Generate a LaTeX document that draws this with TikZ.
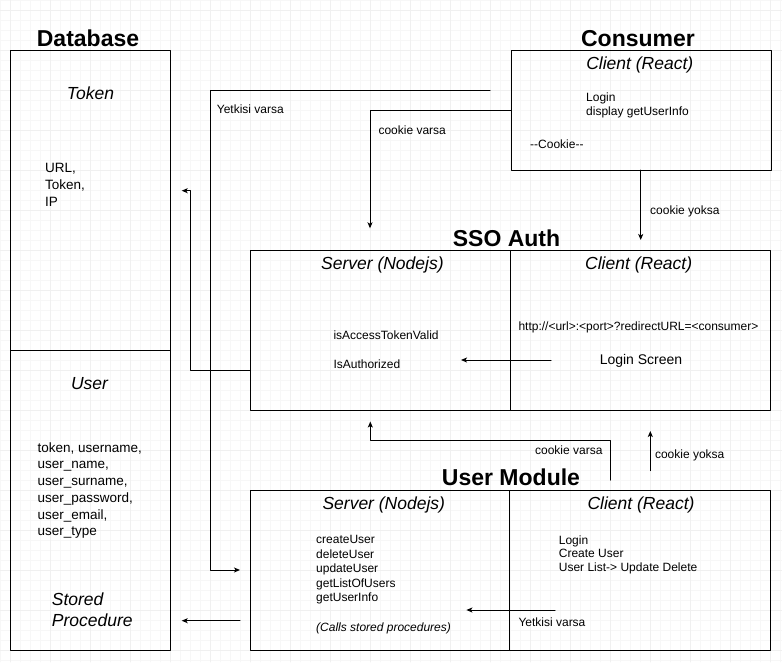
\documentclass[tikz,border=0pt]{standalone}
\usepackage{fontspec}
\setmainfont{Liberation Sans}
\usetikzlibrary{arrows.meta}

\begin{document}
\begin{tikzpicture}[line cap=round,line join=round,x=1pt,y=-1pt,
		box/.style={draw,line width=1pt,anchor=north west,inner sep=0pt,outer sep=0pt},
		title/.style={font=\fontsize{23}{27}\selectfont\bfseries,anchor=base,inner sep=0pt},
		head/.style={font=\fontsize{17.5}{21}\selectfont\itshape,anchor=base,inner sep=0pt},
		txt/.style={font=\fontsize{12}{14.5}\selectfont,anchor=base west,inner sep=0pt,align=left},
		dbtxt/.style={font=\fontsize{13.5}{16.7}\selectfont,anchor=base west,inner sep=0pt,align=left},
		link/.style={line width=1pt,-{Stealth[length=6pt,width=5pt,inset=1.5pt]}}]
		\useasboundingbox (0,0) rectangle (782,662);
		\fill[white] (0,0) rectangle (782,662);
		% background grid
		\foreach \g in {0,10,...,780} \draw[black!3,line width=0.6pt] (\g,0) -- (\g,662);
		\foreach \g in {0,10,...,660} \draw[black!3,line width=0.6pt] (0,\g) -- (782,\g);
		\foreach \g in {10,50,...,770} \draw[black!6,line width=0.6pt] (\g,0) -- (\g,662);
		\foreach \g in {10,50,...,650} \draw[black!6,line width=0.6pt] (0,\g) -- (782,\g);
		% boxes
		\node[box,minimum width=160pt,minimum height=300pt] (token) at (10.7,50.7) {};
		\node[box,minimum width=160pt,minimum height=299.3pt] (user) at (10.7,350.7) {};
		\node[box,minimum width=260pt,minimum height=119.3pt] (consumer) at (511,50.7) {};
		\node[box,minimum width=259.9pt,minimum height=159.3pt] (ssoserver) at (250.4,250.7) {};
		\node[box,minimum width=260.3pt,minimum height=159.3pt] (ssoclient) at (510.3,250.7) {};
		\node[box,minimum width=259.2pt,minimum height=159.3pt] (umserver) at (250.4,490.7) {};
		\node[box,minimum width=261pt,minimum height=159.3pt] (umclient) at (509.6,490.7) {};
		% titles
		\node[title] (dbtitle) at (88,46) {Database};
		\node[title] (consumertitle) at (638,46) {Consumer};
		\node[title] (ssotitle) at (506.5,246) {SSO Auth};
		\node[title] (umtitle) at (511,485) {User Module};
		% database (multi-line nodes sit on their last line)
		\node[head] (tokenhead) at (90.5,99) {Token};
		\node[dbtxt] (tokenfields) at (45,206) {URL,\\Token,\\IP};
		\node[head] (userhead) at (89.5,389) {User};
		\node[dbtxt] (userfields) at (37.3,535.7) {token, username,\\user\_name,\\user\_surname,\\user\_password,\\user\_email,\\user\_type};
		\node[head,anchor=base west,align=left] (stored) at (51.7,626.7) {Stored\\Procedure};
		% consumer
		\node[head] (consumerhead) at (639.8,69.3) {Client (React)};
		\node[txt,font=\fontsize{12}{13.3}\selectfont] (consumerlist) at (586,115) {Login\\display getUserInfo};
		\node[txt] (cookie) at (530,148.3) {{-}{-}Cookie{-}{-}};
		% sso auth
		\node[head] (ssoserverhead) at (382.4,269.3) {Server (Nodejs)};
		\node[head] (ssoclienthead) at (638.7,269.3) {Client (React)};
		\node[txt] (tokenvalid) at (333.3,339.3) {isAccessTokenValid};
		\node[txt] (authorized) at (333.3,368.3) {IsAuthorized};
		\node[txt] (redirect) at (518.3,330.7) {http://<url>:<port>?redirectURL=<consumer>};
		\node[font=\fontsize{14}{17}\selectfont,anchor=base,inner sep=0pt] (loginscreen) at (641,364) {Login Screen};
		% user module
		\node[head] (umserverhead) at (383.8,509.3) {Server (Nodejs)};
		\node[head] (umclienthead) at (641,509.3) {Client (React)};
		\node[txt] (serverlist) at (316,601.7) {createUser\\deleteUser\\updateUser\\getListOfUsers\\getUserInfo};
		\node[txt,font=\fontsize{12}{14.5}\selectfont\itshape] (calls) at (316,631.7) {(Calls stored procedures)};
		\node[txt,font=\fontsize{12}{13.8}\selectfont] (clientlist) at (558.7,571.7) {Login\\Create User\\User List-> Update Delete};
		% connectors
		\coordinate (yv0) at (490,90.3);
		\coordinate (yv1) at (240,570);
		\draw[link] (yv0) -| ([xshift=-29.5pt]yv1) -- (yv1);
		\node[txt] (yvlabel) at (216.7,113.3) {Yetkisi varsa};
		\coordinate (cv0) at (511,110.3);
		\coordinate (cv1) at (370,228.3);
		\draw[link] (cv0) -| (cv1);
		\node[txt] (cvlabel) at (378.3,134) {cookie varsa};
		\coordinate (cy1) at (640.7,240);
		\draw[link] (consumer.south -| cy1) -- (cy1);
		\node[txt] (cylabel) at (650,214.3) {cookie yoksa};
		\coordinate (ss0) at (250.4,370);
		\coordinate (tk) at (181.7,190.7);
		\draw[link] (ss0) -| ([xshift=8.3pt]tk) -- (tk);
		\coordinate (ls0) at (551,360);
		\coordinate (ls1) at (461,360);
		\draw[link] (ls0) -- (ls1);
		\coordinate (cv2) at (610.5,480);
		\coordinate (cv3) at (370.3,421.5);
		\draw[link] (cv2) |- ([yshift=-19.2pt]cv3) -- (cv3);
		\node[txt] (cv2label) at (534.9,454) {cookie varsa};
		\coordinate (cy2) at (650.3,470.7);
		\coordinate (cy3) at (650.3,431);
		\draw[link] (cy2) -- (cy3);
		\node[txt] (cy2label) at (654.8,458.3) {cookie yoksa};
		\coordinate (yu0) at (555,610);
		\coordinate (yu1) at (466.4,610);
		\draw[link] (yu0) -- (yu1);
		\node[txt] (yulabel) at (518.3,626.7) {Yetkisi varsa};
		\coordinate (sp0) at (240,620.7);
		\coordinate (sp1) at (181.7,620.7);
		\draw[link] (sp0) -- (sp1);
	\end{tikzpicture}
\end{document}
